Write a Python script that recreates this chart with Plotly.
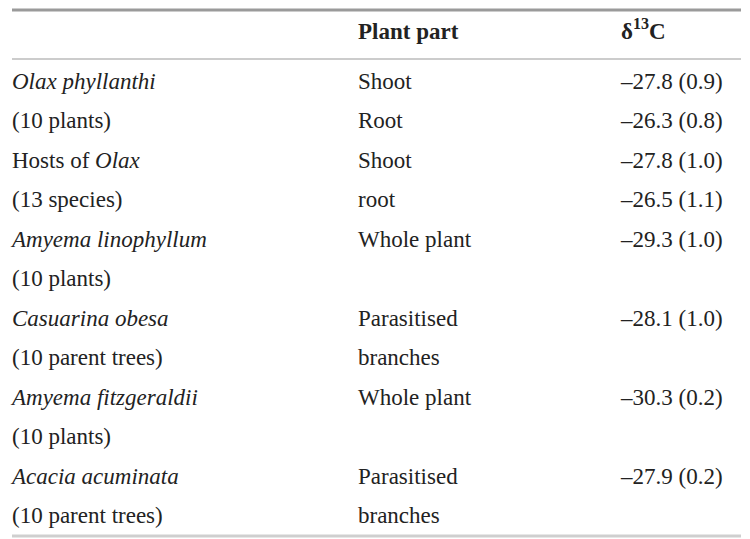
import plotly.graph_objects as go

# linhas da tabela (cada grupo ocupa duas linhas)
organism = ['<i>Olax phyllanthi</i>', '(10 plants)',
            'Hosts of <i>Olax</i>', '(13 species)',
            '<i>Amyema linophyllum</i>', '(10 plants)',
            '<i>Casuarina obesa</i>', '(10 parent trees)',
            '<i>Amyema fitzgeraldii</i>', '(10 plants)',
            '<i>Acacia acuminata</i>', '(10 parent trees)']
plant_part = ['Shoot', 'Root', 'Shoot', 'root', 'Whole plant', '',
              'Parasitised', 'branches', 'Whole plant', '',
              'Parasitised', 'branches']
d13c_mean = [-27.8, -26.3, -27.8, -26.5, -29.3, None,
             -28.1, None, -30.3, None, -27.9, None]
d13c_sd = [0.9, 0.8, 1.0, 1.1, 1.0, None,
           1.0, None, 0.2, None, 0.2, None]
headers = ['', '<b>Plant part</b>', '<b>δ<sup>13</sup>C</b>']

W, H = 750, 539
ROW0, STEP = 83, 39.5
COL_X = [12, 358, 621]
FONT = dict(family='Liberation Serif, Times New Roman, serif', size=23, color='#222222')


def fmt(m, s):
    if m is None:
        return ''
    return f'–{abs(m):.1f} ({s:.1f})'


d13c_txt = [fmt(m, s) for m, s in zip(d13c_mean, d13c_sd)]

fig = go.Figure()
for x0, col in zip(COL_X, [organism, plant_part, d13c_txt]):
    # células vazias ficam de fora
    idx = [i for i, t in enumerate(col) if t]
    fig.add_trace(go.Scatter(x=[x0] * len(idx), y=idx, text=[col[i] for i in idx],
                             mode='text', textposition='middle right', textfont=FONT,
                             hoverinfo='skip', showlegend=False))

# cabeçalho
y_head = (33 - ROW0) / STEP
fig.add_trace(go.Scatter(x=COL_X[1:], y=[y_head, y_head], text=headers[1:],
                         mode='text', textposition='middle right', textfont=FONT,
                         hoverinfo='skip', showlegend=False))

# réguas horizontais
for py, lw, c in [(10, 3, '#9a9a9a'), (59, 2, '#cccccc'), (536, 3, '#cfcfcf')]:
    fig.add_shape(type='line', xref='x', yref='paper', x0=12, x1=741,
                  y0=1 - py / H, y1=1 - py / H, line=dict(color=c, width=lw))

r0 = -ROW0 / STEP
fig.update_layout(
    width=W, height=H, margin=dict(l=0, r=0, t=0, b=0),
    paper_bgcolor='white', plot_bgcolor='white',
    xaxis=dict(range=[0, W], visible=False, fixedrange=True),
    yaxis=dict(range=[r0 + H / STEP, r0], visible=False, fixedrange=True),
)

# tira a margem padrão do body para a figura ocupar a janela inteira
fig.write_html('out.html', config={'displayModeBar': False},
               post_script="document.body.style.margin='0';")
